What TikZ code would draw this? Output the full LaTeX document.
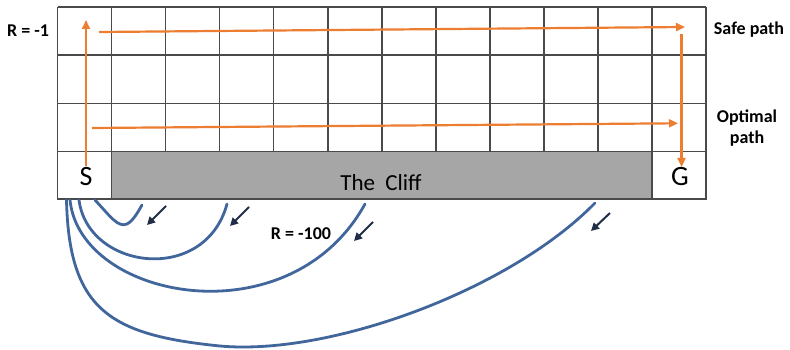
\documentclass[tikz,border=0pt]{standalone}
\usepackage{fontspec}
\setmainfont{Carlito}
\usetikzlibrary{arrows.meta}
\definecolor{gridc}{HTML}{4A4A4A}
\definecolor{cliffc}{HTML}{A6A6A6}
\definecolor{orangec}{HTML}{ED7D31}
\definecolor{bluec}{HTML}{41669B}
\definecolor{navyc}{HTML}{1F2D46}
\tikzset{
  gridline/.style={draw=gridc, line width=1.6pt},
  path arrow/.style={draw=orangec, line width=2.2pt, -{Triangle[length=9pt,width=8pt]}},
  fall/.style={draw=bluec, line width=2.8pt, line cap=round},
  fallarrow/.style={draw=navyc, line width=2pt, -{Triangle[length=8pt,width=8pt]}},
  lbl/.style={font=\bfseries\fontsize{18}{21}\selectfont, inner sep=0pt, align=center},
  cell/.style={font=\fontsize{28}{30}\selectfont, inner sep=0pt, anchor=base},
}
\begin{document}
\begin{tikzpicture}[x=1pt,y=-1pt]
\useasboundingbox (0,0) rectangle (790,350);
% cliff
\fill[cliffc] (111.5,151.7) rectangle (652,199);
% grid
\foreach \i in {0,...,12} {
  \draw[gridline] ({57.5+54.04*\i},7) -- ({57.5+54.04*\i},151.7);
}
\foreach \j in {0,1,2,3} {
  \draw[gridline] (57.5,{7+48.2*\j}) -- (706,{7+48.2*\j});
}
\draw[gridline] (57.5,151.7) -- (57.5,199) -- (706,199) -- (706,151.7);
\draw[gridline] (111.5,151.7) -- (111.5,199);
\draw[gridline] (652,151.7) -- (652,199);
% text
\node[cell] (S) at (86,185.5) {S};
\node[cell] (G) at (680,185.5) {G};
\node[font=\fontsize{23}{25}\selectfont, inner sep=0pt, anchor=base] (cliff) at (381,190.5) {The\ \ Cliff};
\node[lbl] (r1) at (28,31) {R = -1};
\node[lbl] (safe) at (749,30) {Safe path};
\node[lbl] (opt) at (747,128) {Optimal\\path};
\node[lbl] (r100) at (301,234) {R = -100};
% orange paths
\coordinate (s0) at (86,166);
\coordinate (s1) at (86,20);
\coordinate (h0) at (99,32);
\coordinate (h1) at (685,27);
\coordinate (d0) at (681.5,34);
\coordinate (d1) at (681.5,167);
\coordinate (o0) at (92,128);
\coordinate (o1) at (678,123.3);
\draw[path arrow] (s0) -- (s1);
\draw[path arrow] (h0) -- (h1);
\draw[path arrow] (d0) -- (d1);
\draw[path arrow] (o0) -- (o1);
% falls
\coordinate (f1a) at (95,200);
\coordinate (f1b) at (142,205);
\coordinate (f2a) at (79,200);
\coordinate (f2b) at (227,204);
\coordinate (f3a) at (70,200);
\coordinate (f3b) at (365,204);
\coordinate (f4a) at (66.5,200);
\coordinate (f4m) at (220,346);
\coordinate (f4b) at (595,203);
\draw[fall] (f1a) .. controls (110,216) and (118,228) .. (127,224) .. controls (133,221) and (138,212) .. (f1b);
\draw[fall] (f2a) .. controls (88,270) and (205,285) .. (f2b);
\draw[fall] (f3a) .. controls (80,300) and (290,340) .. (f3b);
\draw[fall] (f4a) .. controls (69,310) and (110,335) .. (f4m) .. controls (330,356) and (510,290) .. (f4b);
% small arrows
\coordinate (a1a) at (166,206); \coordinate (a1b) at (147,225);
\coordinate (a2a) at (249,207); \coordinate (a2b) at (230,226);
\coordinate (a3a) at (373,222); \coordinate (a3b) at (354,241);
\coordinate (a4a) at (610,213); \coordinate (a4b) at (591,231);
\draw[fallarrow] (a1a) -- (a1b);
\draw[fallarrow] (a2a) -- (a2b);
\draw[fallarrow] (a3a) -- (a3b);
\draw[fallarrow] (a4a) -- (a4b);
\end{tikzpicture}
\end{document}
